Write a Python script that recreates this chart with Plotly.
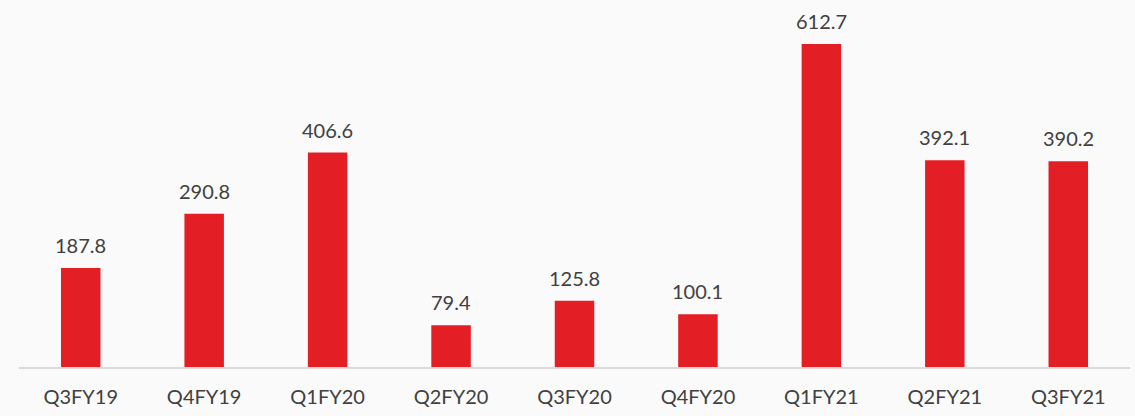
import plotly.graph_objects as go

quarters = ["Q3FY19", "Q4FY19", "Q1FY20", "Q2FY20", "Q3FY20", "Q4FY20", "Q1FY21", "Q2FY21", "Q3FY21"]
values = [187.8, 290.8, 406.6, 79.4, 125.8, 100.1, 612.7, 392.1, 390.2]

RED = "#E31E24"
TEXT = "#404040"
BG = "#FAFAFA"

fig = go.Figure()
fig.add_trace(go.Bar(
    x=quarters, y=values,
    marker=dict(color=RED, line=dict(width=0)),
    hoverinfo="x+y",
    cliponaxis=False,
))
# value labels sit a little higher above the bars than plotly's outside text
for q, v in zip(quarters, values):
    fig.add_annotation(
        x=q, y=v, text=f"{v:.1f}",
        showarrow=False, yanchor="bottom", yshift=9,
        font=dict(size=20, color=TEXT, family="Lato, sans-serif"),
    )
fig.update_layout(
    width=1135, height=416,
    paper_bgcolor=BG,
    plot_bgcolor=BG,
    font=dict(family="Lato, sans-serif", color=TEXT, size=20),
    margin=dict(l=19, r=5, t=10, b=49),
    bargap=0.68,
    showlegend=False,
    xaxis=dict(
        showline=True, linecolor="#D9D9D9", linewidth=2,
        ticks="outside", ticklen=11, tickcolor="rgba(0,0,0,0)",
        showgrid=False,
    ),
    yaxis=dict(visible=False, range=[0, 677], showgrid=False),
)
# drop the default page margin so the chart sits flush in the window
fig.write_html(
    "out.html",
    config={"displayModeBar": False},
    post_script="document.body.style.margin='0';document.body.style.background='%s';" % BG,
)
